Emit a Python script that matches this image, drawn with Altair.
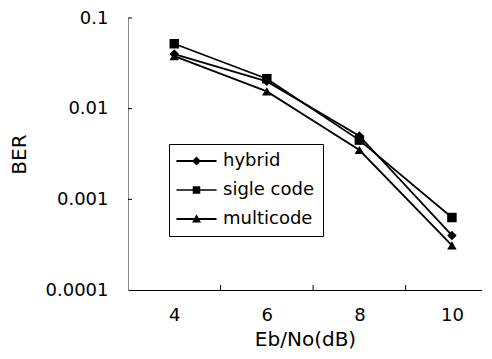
import altair as alt
import pandas as pd

x_values = [4, 6, 8, 10]
series_names = ["hybrid", "sigle code", "multicode"]
hybrid = [0.040, 0.020, 0.0050, 0.00040]
sigle_code = [0.052, 0.0214, 0.0045, 0.00063]
multicode = [0.038, 0.0155, 0.0035, 0.00031]

y_tick_values = [0.1, 0.01, 0.001, 0.0001]
y_inner_ticks = [0.1, 0.01, 0.001]
x_inner_ticks = [5, 7, 9]

rows = []
for name, vals in zip(series_names, [hybrid, sigle_code, multicode]):
    for xv, v in zip(x_values, vals):
        rows.append({"series": name, "x": xv, "ber": v})
df = pd.DataFrame(rows)

FONT = "DejaVu Sans"
W, H = 354, 272

xscale = alt.Scale(domain=[3, 10.65], nice=False, zero=False)
yscale = alt.Scale(type="log", domain=[0.0001, 0.1], nice=False)

xenc = alt.X("x:Q", scale=xscale,
             axis=alt.Axis(values=x_values, format="d", title="Eb/No(dB)",
                           ticks=False, tickSize=0, grid=False, labelPadding=16,
                           titlePadding=5, domainColor="black", domainWidth=1.2))
yenc = alt.Y("ber:Q", scale=yscale,
             axis=alt.Axis(values=y_tick_values, format=".4~f", title="BER",
                           ticks=False, tickSize=0, grid=False, labelPadding=20,
                           titlePadding=16, domainColor="#888888", domainWidth=1))

lines = alt.Chart(df).mark_line(color="black", strokeWidth=1.8).encode(
    x=xenc, y=yenc, detail="series:N")

points = alt.Chart(df).mark_point(filled=True, color="black", size=90, opacity=1).encode(
    x=xenc, y=yenc,
    shape=alt.Shape("series:N",
                    scale=alt.Scale(domain=series_names,
                                    range=["diamond", "square", "triangle-up"]),
                    legend=None))

legend_paths = [
    "M-2.67,-0.12H2.67V0.12H-2.67ZM0,-0.6L0.6,0L0,0.6L-0.6,0Z",
    "M-2.67,-0.1H2.67V0.1H-2.67ZM-0.5,-0.5H0.5V0.5H-0.5Z",
    "M-2.67,-0.12H2.67V0.12H-2.67ZM0,-0.62L0.6,0.45H-0.6Z",
]
legend_layer = alt.Chart(df).mark_point(filled=True, color="black", opacity=0).encode(
    x=xenc, y=yenc,
    shape=alt.Shape("series:N",
                    scale=alt.Scale(domain=series_names, range=legend_paths),
                    legend=alt.Legend(title=None, orient="none", legendX=41, legendY=126,
                                      strokeColor="black", fillColor="white", padding=8,
                                      labelFont=FONT, labelFontSize=18, labelColor="black",
                                      symbolSize=225, symbolOffset=10.5, labelOffset=17.5,
                                      rowPadding=11, symbolOpacity=1,
                                      symbolFillColor="black")))

ytick_df = pd.DataFrame({"ber": y_inner_ticks})
yticks = alt.Chart(ytick_df).mark_rule(color="black", strokeWidth=1).encode(
    y=yenc, x=alt.value(0), x2=alt.value(4))

xtick_df = pd.DataFrame({"x": x_inner_ticks})
xticks = alt.Chart(xtick_df).mark_rule(color="black", strokeWidth=1).encode(
    x=xenc, y=alt.value(H), y2=alt.value(H - 5))

chart = alt.layer(lines, points, legend_layer, yticks, xticks).resolve_scale(
    shape="independent").properties(
    width=W, height=H,
    autosize=alt.AutoSizeParams(type="none"),
    padding={"left": 120, "top": 10, "right": 0, "bottom": 60},
    background="white",
).configure_view(stroke=None).configure_axis(
    labelFont=FONT, labelFontSize=18, labelColor="black",
    titleFont=FONT, titleFontSize=20, titleFontWeight="normal", titleColor="black",
)

chart.save("out.html", embed_options={"renderer": "svg", "actions": False})
